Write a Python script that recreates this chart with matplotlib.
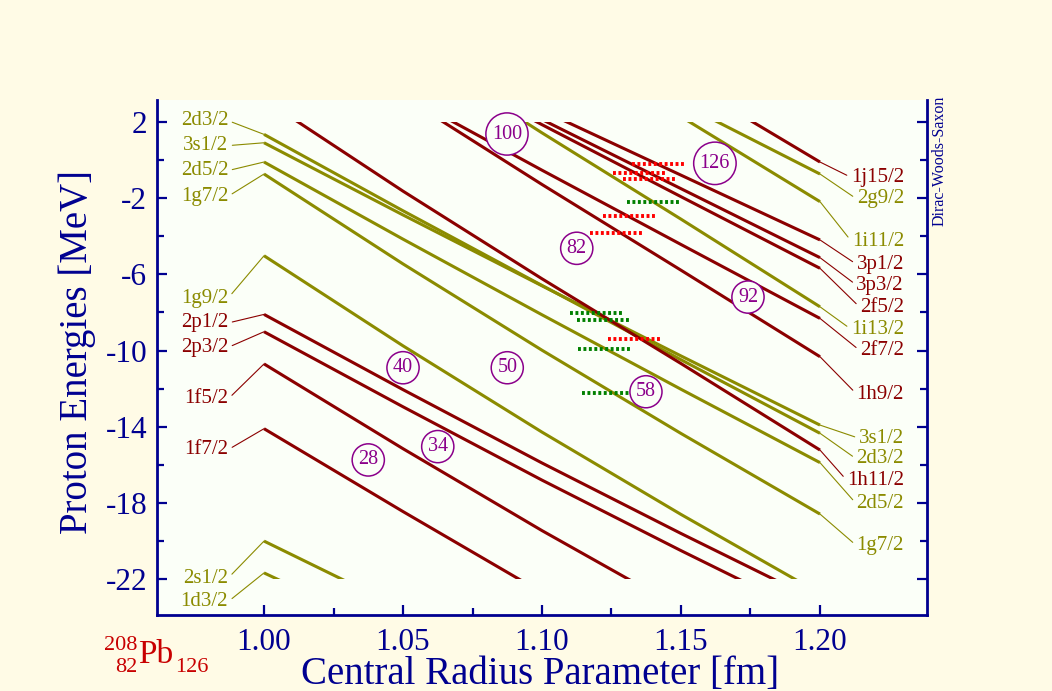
import numpy as np
import matplotlib
matplotlib.use("Agg")
import matplotlib.pyplot as plt
from matplotlib.patches import Rectangle
from matplotlib.ticker import FixedLocator, FormatStrFormatter

plt.rcParams["font.family"] = ["Liberation Serif", "DejaVu Serif"]
plt.rcParams["axes.unicode_minus"] = False

# -----------------------------------------------------------------------
# data
# -----------------------------------------------------------------------
nan = np.nan
radius = [1.00, 1.05, 1.10, 1.15, 1.20]

level_names = ["1d3/2", "2s1/2", "1f7/2", "1f5/2", "2p3/2", "2p1/2", "1g9/2",
               "1g7/2", "2d5/2", "3s1/2", "2d3/2", "1h11/2", "1h9/2", "2f7/2",
               "1i13/2", "2f5/2", "3p3/2", "3p1/2", "1i11/2", "2g9/2", "1j15/2"]
level_E = [
    [-21.67, -25.10, nan, nan, nan],
    [-20.00, -23.57, nan, nan, nan],
    [-14.10, -18.45, -22.70, nan, nan],
    [-10.70, -15.15, -19.45, -23.55, nan],
    [-9.01, -12.95, -16.80, -20.50, -24.10],
    [-8.10, -12.05, -15.90, -19.60, -23.20],
    [-5.02, -9.75, -14.28, -18.60, -22.75],
    [-0.73, -5.45, -9.98, -14.35, -18.58],
    [-0.10, -4.15, -8.12, -12.03, -15.88],
    [0.91, -2.88, -6.60, -10.28, -13.91],
    [1.35, -2.66, -6.58, -10.48, -14.34],
    [3.18, -1.63, -6.23, -10.68, -15.22],
    [nan, 3.34, -1.28, -5.78, -10.32],
    [nan, 3.44, -0.53, -4.43, -8.31],
    [nan, 6.10, 1.43, -3.10, -7.70],
    [nan, 5.71, 1.86, -1.92, -5.68],
    [nan, 5.83, 2.13, -1.50, -5.12],
    [nan, 6.11, 2.61, -0.79, -4.19],
    [nan, nan, nan, 2.28, -2.18],
    [nan, nan, nan, 2.98, -0.73],
    [nan, nan, nan, 4.25, -0.10],
]

left_names = ["2d3/2", "3s1/2", "2d5/2", "1g7/2", "1g9/2", "2p1/2", "2p3/2",
              "1f5/2", "1f7/2", "2s1/2", "1d3/2"]
left_label_E = [2.07, 0.76, -0.55, -1.90, -7.24, -8.55, -9.83,
                -12.54, -15.20, -21.94, -23.18]

right_names = ["1j15/2", "2g9/2", "1i11/2", "3p1/2", "3p3/2", "2f5/2", "1i13/2",
               "2f7/2", "1h9/2", "3s1/2", "2d3/2", "1h11/2", "2d5/2", "1g7/2"]
right_label_E = [-0.90, -2.04, -4.28, -5.47, -6.56, -7.73, -8.87,
                 -10.00, -12.28, -14.60, -15.69, -16.82, -18.05, -20.24]

# experimental levels (horizontal dashed bars)
exp_E = [-0.22, -0.69, -1.01, -2.93, -3.81, -9.39,
         -2.22, -8.04, -8.39, -9.93, -12.21]
exp_r_lo = [1.1324, 1.1255, 1.1291, 1.1219, 1.1173, 1.1237,
            1.1306, 1.1101, 1.1126, 1.1129, 1.1144]
exp_r_hi = [1.1518, 1.1446, 1.1482, 1.1410, 1.1363, 1.1432,
            1.1496, 1.1291, 1.1316, 1.1324, 1.1334]
exp_odd = [True, True, True, True, True, True,
           False, False, False, False, False]

magic_numbers = [100, 126, 82, 92, 40, 50, 34, 28, 58]
magic_r = [1.0874, 1.1622, 1.1125, 1.1741, 1.0500, 1.0875, 1.0625, 1.0375, 1.1374]
magic_E = [1.37, -0.17, -4.63, -7.19, -10.90, -10.90, -15.04, -15.74, -12.16]

x_major = [1.00, 1.05, 1.10, 1.15, 1.20]
x_minor = [1.025, 1.075, 1.125, 1.175]
y_major = [2, -2, -6, -10, -14, -18, -22]
y_minor = [0, -4, -8, -12, -16, -20]

# -----------------------------------------------------------------------
# style
# -----------------------------------------------------------------------
RED = "#8b0000"
OLIVE = "#8b8b00"
NAVY = "#000090"
PURPLE = "#8b008b"
CREAM = "#fffbe6"
PLOT_BG = "#fbfff8"
W, H = 1052, 691


def level_color(name):
    return RED if name[1] in "pfhj" else OLIVE


fig = plt.figure(figsize=(W / 100, H / 100), dpi=100)
fig.patch.set_facecolor(CREAM)

ax = fig.add_axes([157 / W, 1 - 615 / H, 770 / W, 515 / H])
ax.set_facecolor(PLOT_BG)
ax.set_xlim(0.9615, 1.2385)
ax.set_ylim(-23.88, 3.155)

# levels only exist between -22 and 2 MeV
clip = Rectangle((0.9615, -22), 0.277, 24, transform=ax.transData,
                 facecolor="none", edgecolor="none")

for name, E in zip(level_names, level_E):
    ln, = ax.plot(radius, E, color=level_color(name), lw=2.2,
                  solid_capstyle="butt", zorder=2)
    ln.set_clip_path(clip)

for name, Elab in zip(left_names, left_label_E):
    c = level_color(name)
    E0 = level_E[level_names.index(name)][0]
    ax.annotate(name, xy=(radius[0], E0), xytext=(0.9871, Elab),
                ha="right", va="center", color=c, fontsize=15,
                arrowprops=dict(arrowstyle="-", color=c, lw=0.8,
                                shrinkA=1, shrinkB=0, relpos=(1, 0.5)))

for name, Elab in zip(right_names, right_label_E):
    c = level_color(name)
    E1 = level_E[level_names.index(name)][-1]
    ax.annotate(name, xy=(radius[-1], E1), xytext=(1.2302, Elab),
                ha="right", va="center", color=c, fontsize=15,
                arrowprops=dict(arrowstyle="-", color=c, lw=0.8,
                                shrinkA=1, shrinkB=0, relpos=(0, 0.5)))

for E, lo, hi, odd in zip(exp_E, exp_r_lo, exp_r_hi, exp_odd):
    ax.plot([lo, hi], [E, E], color="#ff0000" if odd else "#008000",
            lw=2.8, ls=(0, (0.75, 0.65)), zorder=4)

for num, r, E in zip(magic_numbers, magic_r, magic_E):
    ax.text(r, E, str(num), ha="center", va="center", color=PURPLE,
            fontsize=14.5, zorder=5,
            bbox=dict(boxstyle="circle,pad=0.3", fc=PLOT_BG, ec=PURPLE, lw=1.1))

# axes cosmetics
ax.spines["top"].set_visible(False)
for s in ("left", "right", "bottom"):
    ax.spines[s].set_color(NAVY)
    ax.spines[s].set_linewidth(2)

ax.xaxis.set_major_locator(FixedLocator(x_major))
ax.xaxis.set_minor_locator(FixedLocator(x_minor))
ax.yaxis.set_major_locator(FixedLocator(y_major))
ax.yaxis.set_minor_locator(FixedLocator(y_minor))
ax.xaxis.set_major_formatter(FormatStrFormatter("%.2f"))
ax.yaxis.set_major_formatter(FormatStrFormatter("%d"))

ax.tick_params(which="both", direction="in", color=NAVY, width=1.6,
               left=True, right=True, top=False, bottom=True,
               labelsize=22.5, labelcolor=NAVY)
ax.tick_params(which="major", length=7.5)
ax.tick_params(which="minor", length=5)
ax.tick_params(axis="y", pad=7)
ax.tick_params(axis="x", pad=9)

ax.set_xlabel("Central Radius Parameter [fm]", fontsize=28, color=NAVY)
ax.set_ylabel("Proton Energies [MeV]", fontsize=28, color=NAVY)
ax.xaxis.set_label_coords(0.497, -0.0796)
ax.yaxis.set_label_coords(-0.079, 0.511)

# nucleus symbol and model name
fig.text(138 / W, 1 - 663 / H, "Pb", fontsize=24, color="#c80000",
         ha="left", va="baseline")
fig.text(137 / W, 1 - 650 / H, "208", fontsize=16, color="#c80000",
         ha="right", va="baseline")
fig.text(137 / W, 1 - 671.7 / H, "82", fontsize=16, color="#c80000",
         ha="right", va="baseline")
fig.text(175 / W, 1 - 671.7 / H, "126", fontsize=16, color="#c80000",
         ha="left", va="baseline")
fig.text(940 / W, 1 - 161 / H, "Dirac-Woods-Saxon", fontsize=11.5, color=NAVY,
         rotation=90, ha="center", va="center")

fig.savefig("out.png", dpi=100, facecolor=fig.get_facecolor())
